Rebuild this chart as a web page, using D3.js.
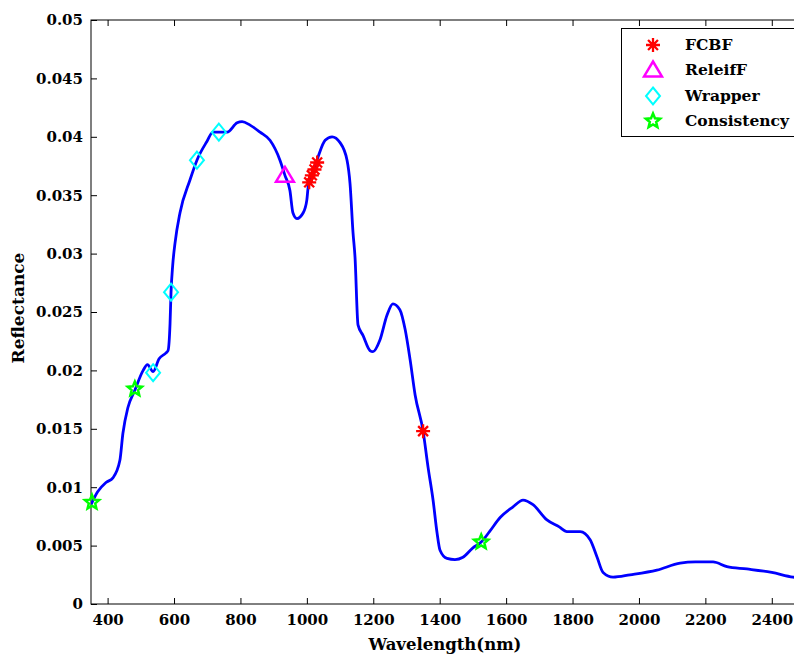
<!DOCTYPE html>
<html><head><meta charset="utf-8">
<script src="https://cdn.jsdelivr.net/npm/d3@7"></script>
<style>
html,body{margin:0;padding:0;background:#fff;}
svg{display:block;overflow:hidden;}
text{font-family:"DejaVu Serif",serif;font-weight:bold;fill:#000;}
</style></head>
<body>
<svg id="chart" width="794" height="656"></svg>
<script>
// ---- data ----
const wavelength = [350,370,395,416,437,446,461,482,507,520,537,555,576,582,588,591,596,603,618,648,669,699,717,760,790,805,829,859,889,919,934,949,958,970,989,1000,1004,1019,1034,1055,1076,1100,1121,1130,1139,1145,1154,1169,1190,1199,1220,1241,1259,1280,1296,1311,1326,1350,1365,1380,1392,1401,1422,1446,1470,1500,1525,1550,1582,1620,1651,1681,1723,1760,1783,1823,1853,1874,1892,1922,1973,2054,2124,2170,2223,2265,2325,2400,2464,2500];
const reflectance = [0.0085,0.0096,0.0104,0.0108,0.0123,0.0146,0.0168,0.0183,0.0200,0.0205,0.0199,0.0210,0.0215,0.0217,0.0240,0.0267,0.0290,0.0309,0.0335,0.0363,0.0380,0.0396,0.0404,0.0404,0.0412,0.0413,0.0410,0.0404,0.0397,0.0380,0.0367,0.0354,0.0335,0.0330,0.0335,0.0346,0.0357,0.0370,0.0383,0.0397,0.0400,0.0395,0.0380,0.0360,0.0318,0.0297,0.0239,0.0230,0.0217,0.0216,0.0226,0.0247,0.0257,0.0252,0.0235,0.0209,0.0179,0.0148,0.0117,0.0089,0.0061,0.0046,0.0039,0.0038,0.0040,0.0048,0.0053,0.0062,0.0074,0.0083,0.0089,0.0085,0.0072,0.0066,0.0062,0.0062,0.0055,0.0040,0.0027,0.0023,0.0025,0.0029,0.0035,0.0036,0.0036,0.0032,0.0030,0.0027,0.0023,0.0022];

const fcbfX = [1007,1015,1023,1031,1350];
const fcbfY = [0.0361,0.0367,0.0372,0.0378,0.0148];
const relieffX = [934];
const relieffY = [0.0367];
const wrapperX = [537,591,669,735];
const wrapperY = [0.0198,0.0267,0.0380,0.0404];
const consistencyX = [353,482,1525];
const consistencyY = [0.0087,0.0184,0.0053];

const xTicks = [400,600,800,1000,1200,1400,1600,1800,2000,2200,2400];
const yTicks = [0,0.005,0.01,0.015,0.02,0.025,0.03,0.035,0.04,0.045,0.05];
const legendLabels = ["FCBF","ReleifF","Wrapper","Consistency"];

// ---- layout ----
const svg = d3.select("#chart");
const L = 91, T = 20, R = 805, B = 604;
const x = d3.scaleLinear().domain([350,2500]).range([L,R]);
const y = d3.scaleLinear().domain([0,0.05]).range([B,T]);

// frame
svg.append("rect").attr("x",L).attr("y",T).attr("width",R-L).attr("height",B-T)
  .attr("fill","none").attr("stroke","#000").attr("stroke-width",1);

// axes (ticks inward)
const fmtY = d => d===0 ? "0" : String(+d.toFixed(3));
const xAxis = svg.append("g").attr("transform",`translate(0,${B})`)
  .call(d3.axisBottom(x).tickValues(xTicks).tickSize(-6).tickPadding(10).tickFormat(d3.format("d")));
const xTop = svg.append("g").attr("transform",`translate(0,${T})`)
  .call(d3.axisTop(x).tickValues(xTicks).tickSize(-6).tickFormat(""));
const yAxis = svg.append("g").attr("transform",`translate(${L},0)`)
  .call(d3.axisLeft(y).tickValues(yTicks).tickSize(-6).tickPadding(8).tickFormat(fmtY));
[xAxis,xTop,yAxis].forEach(g=>{
  g.select(".domain").remove();
  g.selectAll("line").attr("stroke","#000");
  g.selectAll("text").style("font-family","'DejaVu Serif',serif").style("font-weight","bold")
    .style("font-size","15px").attr("fill","#000");
});

// curve
const pts = wavelength.map((w,i)=>[w,reflectance[i]]);
svg.append("clipPath").attr("id","clip").append("rect")
  .attr("x",L).attr("y",T).attr("width",R-L).attr("height",B-T);
svg.append("path").datum(pts)
  .attr("clip-path","url(#clip)")
  .attr("d",d3.line().x(d=>x(d[0])).y(d=>y(d[1])).curve(d3.curveMonotoneX))
  .attr("fill","none").attr("stroke","#0000ff").attr("stroke-width",2.8)
  .attr("stroke-linejoin","round");

// marker shapes
function asterisk(r){
  const d=r*0.7071;
  return `M${-r},0L${r},0M0,${-r}L0,${r}M${-d},${-d}L${d},${d}M${-d},${d}L${d},${-d}`;
}
function triangle(r){
  return `M0,${-r}L${r*1.05},${r*0.75}L${-r*1.05},${r*0.75}Z`;
}
function diamond(w,h){
  return `M0,${-h}L${w},0L0,${h}L${-w},0Z`;
}
function pentagram(R0){
  const r0=R0*0.45; let s="";
  for(let i=0;i<10;i++){
    const a=-Math.PI/2+i*Math.PI/5, rr=i%2?r0:R0;
    s+=(i?"L":"M")+(rr*Math.cos(a)).toFixed(2)+","+(rr*Math.sin(a)).toFixed(2);
  }
  return s+"Z";
}
const series = [
  {xs:fcbfX, ys:fcbfY, path:asterisk(7), color:"#ff0000", sw:2.3},
  {xs:relieffX, ys:relieffY, path:triangle(8.5), color:"#ff00ff", sw:2.5},
  {xs:wrapperX, ys:wrapperY, path:diamond(7,8.5), color:"#00ffff", sw:2},
  {xs:consistencyX, ys:consistencyY, path:pentagram(7.5), color:"#00ff00", sw:2.5}
];
series.forEach(s=>{
  svg.append("g").selectAll("path").data(s.xs.map((v,i)=>[v,s.ys[i]])).join("path")
    .attr("transform",d=>`translate(${x(d[0])},${y(d[1])})`)
    .attr("d",s.path).attr("fill","none").attr("stroke",s.color).attr("stroke-width",s.sw);
});

// legend
const lg = svg.append("g");
lg.append("rect").attr("x",621.5).attr("y",28.5).attr("width",180).attr("height",108)
  .attr("fill","#fff").attr("stroke","#000").attr("stroke-width",1);
const rowsY=[45,70,96,121];
series.forEach((s,i)=>{
  lg.append("path").attr("transform",`translate(653,${rowsY[i]})`).attr("d",s.path)
    .attr("fill","none").attr("stroke",s.color).attr("stroke-width",s.sw);
  lg.append("text").attr("x",685).attr("y",rowsY[i]).attr("dy","0.35em")
    .style("font-size","15.5px").text(legendLabels[i]);
});

// axis labels
svg.append("text").attr("x",445).attr("y",650).attr("text-anchor","middle")
  .style("font-size","16.5px").text("Wavelength(nm)");
svg.append("text").attr("transform","translate(24,308) rotate(-90)").attr("text-anchor","middle")
  .style("font-size","17px").text("Reflectance");
</script>
</body></html>
